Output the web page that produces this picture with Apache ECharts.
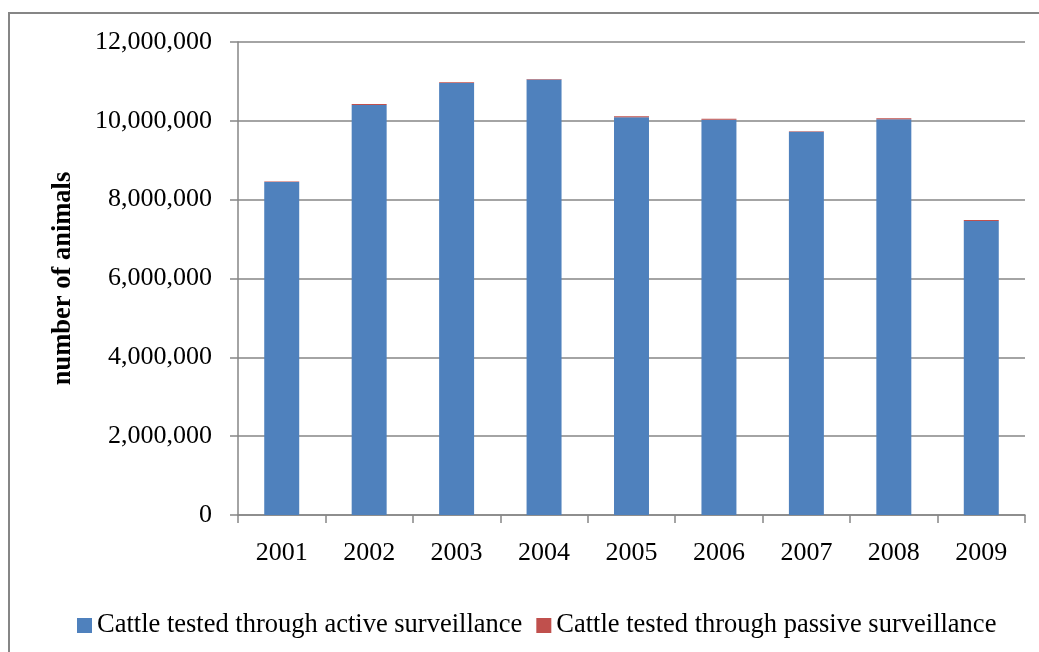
<!DOCTYPE html>
<html>
<head>
<meta charset="utf-8">
<script src="https://cdn.jsdelivr.net/npm/echarts@6/dist/echarts.min.js"></script>
<style>
html,body{margin:0;padding:0;background:#fff;}
#chart{width:1039px;height:652px;}
</style>
</head>
<body>
<div id="chart"></div>
<script>
const years = ['2001','2002','2003','2004','2005','2006','2007','2008','2009'];
const activeTested = [8450000, 10400000, 10960000, 11050000, 10090000, 10030000, 9720000, 10040000, 7460000];
const passiveTested = [12000, 28000, 16000, 12000, 25000, 25000, 18000, 25000, 22000];
const yTicks = [0, 2000000, 4000000, 6000000, 8000000, 10000000, 12000000];

const FONT = '"Liberation Serif", "Times New Roman", serif';
const chart = echarts.init(document.getElementById('chart'));
chart.setOption({
  animation: false,
  backgroundColor: '#ffffff',
  graphic: [{
    type: 'rect',
    shape: { x: 9, y: 13, width: 1200, height: 800 },
    style: { fill: 'none', stroke: '#868686', lineWidth: 2 },
    silent: true
  }],
  grid: { left: 238, right: 14, top: 42, bottom: 137 },
  legend: {
    left: 72,
    top: 607,
    itemWidth: 15,
    itemHeight: 15,
    itemGap: 14,
    icon: 'rect',
    textStyle: { fontFamily: FONT, fontSize: 26.5, color: '#000' },
    data: ['Cattle tested through active surveillance', 'Cattle tested through passive surveillance']
  },
  xAxis: {
    type: 'category',
    data: years,
    axisLine: { lineStyle: { color: '#868686', width: 1.5 } },
    axisTick: { show: true, length: 8, lineStyle: { color: '#868686', width: 1.5 } },
    axisLabel: { fontFamily: FONT, fontSize: 26, color: '#000', margin: 25 }
  },
  yAxis: {
    type: 'value',
    min: yTicks[0],
    max: yTicks[yTicks.length - 1],
    interval: 2000000,
    name: 'number of animals',
    nameLocation: 'middle',
    nameGap: 161,
    nameTextStyle: { fontFamily: FONT, fontSize: 26.5, fontWeight: 'bold', color: '#000' },
    axisLine: { show: true, lineStyle: { color: '#868686', width: 1.5 } },
    axisTick: { show: true, length: 8, lineStyle: { color: '#868686', width: 1.5 } },
    splitLine: { lineStyle: { color: '#868686', width: 1.5 } },
    axisLabel: {
      fontFamily: FONT, fontSize: 26, color: '#000', margin: 26,
      formatter: v => v.toLocaleString('en-US')
    }
  },
  series: [
    {
      name: 'Cattle tested through active surveillance',
      type: 'bar',
      stack: 'total',
      barWidth: '40%',
      itemStyle: { color: '#4F81BD' },
      data: activeTested
    },
    {
      name: 'Cattle tested through passive surveillance',
      type: 'bar',
      stack: 'total',
      barWidth: '40%',
      itemStyle: { color: '#C0504D' },
      data: passiveTested
    }
  ]
});
</script>
</body>
</html>
